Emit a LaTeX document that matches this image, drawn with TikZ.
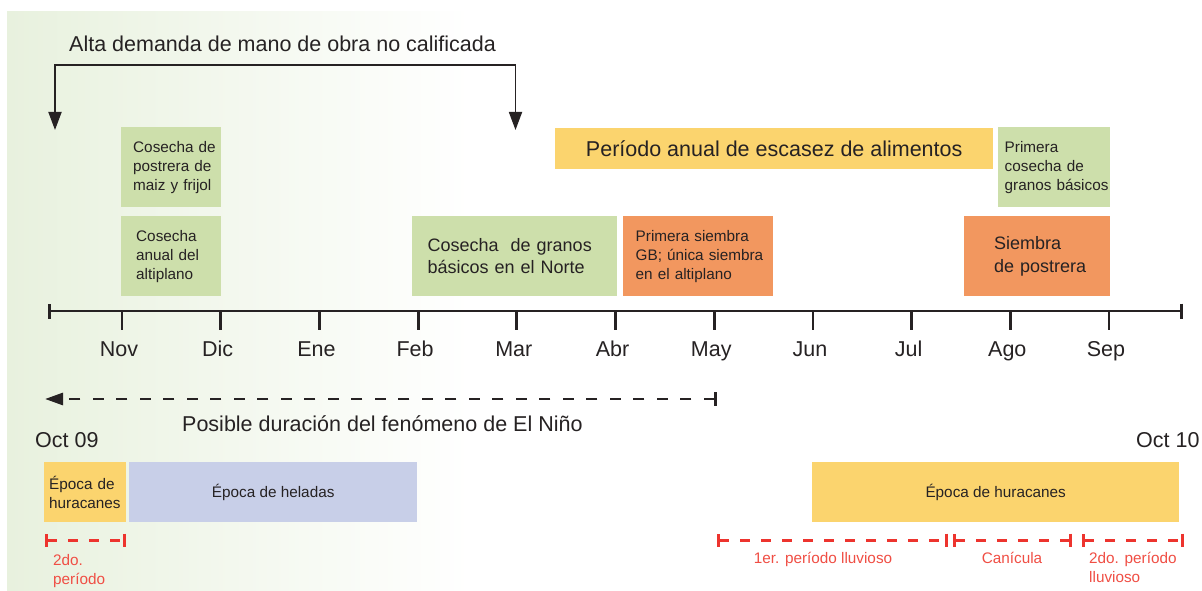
\documentclass[tikz,border=0pt]{standalone}
\usepackage{fontspec}
\setmainfont{Liberation Sans}
\usetikzlibrary{arrows.meta}
\hyphenpenalty=10000
\exhyphenpenalty=10000
\lefthyphenmin=64
\hbadness=10000
\hfuzz=50pt
\definecolor{bgg}{RGB}{232,241,222}
\definecolor{gboxc}{RGB}{205,223,171}
\definecolor{yboxc}{RGB}{251,212,110}
\definecolor{oboxc}{RGB}{242,151,95}
\definecolor{bboxc}{RGB}{200,207,232}
\definecolor{ink}{RGB}{38,34,35}
\definecolor{redline}{RGB}{237,52,46}
\definecolor{redtext}{RGB}{240,78,68}
\newcommand\SzBig{\fontsize{21.5}{26}\selectfont}
\newcommand\SzMed{\fontsize{18}{22.5}\selectfont}
\newcommand\SzSm{\fontsize{15.3}{19}\selectfont}
\begin{document}
\begin{tikzpicture}[x=1pt,y=-1pt,
  boxst/.style={anchor=north west, draw=none, inner ysep=0pt, minimum height=80pt, text=ink, align=left, font=\SzSm},
  gb/.style={boxst, fill=gboxc},
  ob/.style={boxst, fill=oboxc},
  yb/.style={boxst, fill=yboxc},
  bb/.style={boxst, fill=bboxc},
  lbl/.style={inner sep=0pt, text=ink, font=\SzBig},
  redlbl/.style={inner sep=0pt, text=redtext, font=\SzSm},
  axisst/.style={line width=2.8pt, draw=ink},
  brk/.style={line width=1.8pt, draw=ink},
  dashst/.style={line width=2.8pt, draw=ink, dash pattern=on 11pt off 12.5pt},
  reddash/.style={line width=3pt, draw=redline, dash pattern=on 10pt off 11pt}
]
\useasboundingbox (0,0) rectangle (1202,591);
\fill[white] (0,0) rectangle (1202,591);
\shade[left color=bgg, right color=white] (7,12) rectangle (470,591);

% title bracket
\node[lbl, anchor=base west] (title) at (69,52) {Alta demanda de mano de obra no calificada};
\coordinate (aL) at (55,130);
\coordinate (bL) at (55,65);
\coordinate (bR) at (515.5,65);
\coordinate (aR) at (515.5,130);
\draw[brk, {Triangle[width=13pt,length=18pt]}-{Triangle[width=13pt,length=18pt]}] (aL) -- (bL) -- (bR) -- (aR);

% upper boxes
\node[gb, text width=76pt, inner xsep=12pt] (postrera) at (121,127) {Cosecha~de\\postrera~de\\maiz~y~frijol};
\node[gb, text width=70pt, inner xsep=15pt] (anual) at (121,216) {Cosecha\\anual~del\\altiplano};
\node[gb, text width=174pt, inner xsep=15.5pt, font=\SzMed] (norte) at (412,216) {Cosecha~~de~granos\\básicos~en~el~Norte};
\node[ob, text width=125pt, inner xsep=12.5pt] (siembra1) at (623,216) {Primera~siembra\\GB;~única~siembra\\en~el~altiplano};
\node[ob, text width=86pt, inner xsep=30pt, font=\SzMed] (postrera2) at (964,216) {Siembra\\de~postrera};
\node[gb, text width=99pt, inner xsep=6.5pt] (primera) at (998,127) {Primera\\cosecha~de\\granos~básicos};
\node[yb, minimum width=438pt, minimum height=41pt, inner xsep=0pt, font=\SzBig] (escasez) at (555,128) {Período anual de escasez de alimentos};

% axis
\coordinate (axL) at (48,311);
\coordinate (axR) at (1183,311);
\draw[axisst, {Bar[width=15pt]}-{Bar[width=15pt]}] (axL) -- (axR);
\foreach \m [count=\i from 0] in {Nov,Dic,Ene,Feb,Mar,Abr,May,Jun,Jul,Ago,Sep}{
  \coordinate (t\m) at ({122+98.7*\i},311);
  \draw[axisst] (t\m) -- ++(0,19);
  \node[lbl, anchor=base] (l\m) at ({119+98.7*\i},356) {\m};
}

% El Nino
\coordinate (nR) at (717,399);
\coordinate (nL) at (45,399);
\draw[dashst, {Bar[width=14pt]}-{Triangle[width=12pt,length=18pt]}] (nR) -- (nL);
\node[lbl, anchor=base west] (nino) at (182,431) {Posible duración del fenómeno de El Niño};
\node[lbl, anchor=base west] (oct9) at (35,447) {Oct 09};
\node[lbl, anchor=base west] (oct10) at (1136,447) {Oct 10};

% lower boxes
\node[yb, minimum height=60pt, text width=72pt, inner xsep=5pt] (hur1) at (44,462) {Época~de\\huracanes};
\node[bb, minimum height=60pt, minimum width=288pt, inner xsep=0pt, align=center] (heladas) at (129,462) {Época de heladas};
\node[yb, minimum height=60pt, minimum width=367pt, inner xsep=0pt, align=center] (hur2) at (812,462) {Época de huracanes};

% red intervals
\coordinate (r0a) at (45,540);  \coordinate (r0b) at (126,540);
\coordinate (r1a) at (717,540); \coordinate (r1b) at (948,540);
\coordinate (r2a) at (953,540); \coordinate (r2b) at (1072,540);
\coordinate (r3a) at (1082,540); \coordinate (r3b) at (1184,540);
\foreach \a/\b in {r0a/r0b,r1a/r1b,r2a/r2b,r3a/r3b}{
  \draw[reddash, {Bar[width=13pt]}-{Bar[width=13pt]}] (\a) -- (\b);
}
\node[redlbl, anchor=base west, align=left] (p0) at (53,584.5) {2do.\\período};
\node[redlbl, anchor=base] (p1) at (823,563.5) {1er. período lluvioso};
\node[redlbl, anchor=base] (p2) at (1012,563.5) {Canícula};
\node[redlbl, anchor=base west, align=left] (p3) at (1089,582.5) {2do. período\\lluvioso};
\end{tikzpicture}
\end{document}
